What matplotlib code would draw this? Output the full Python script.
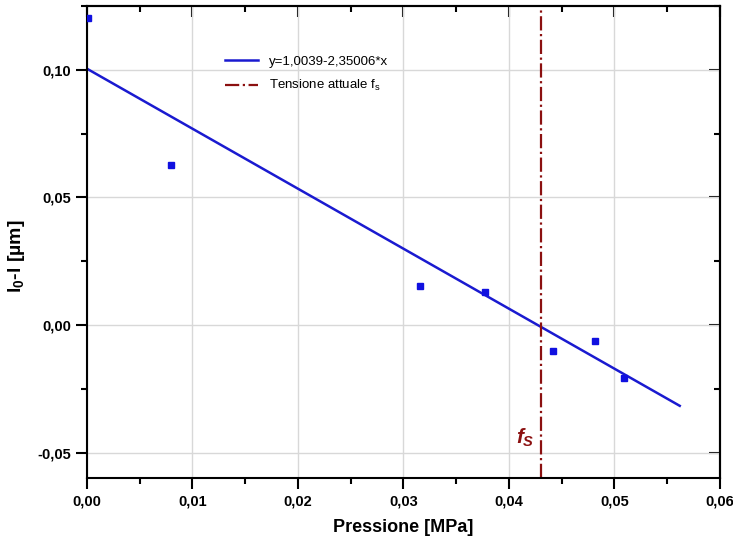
import matplotlib

matplotlib.use("Agg")
import matplotlib.pyplot as plt
from matplotlib.ticker import FuncFormatter, MultipleLocator

plt.rcParams["font.family"] = ["Liberation Sans", "DejaVu Sans"]
plt.rcParams["mathtext.fontset"] = "custom"
plt.rcParams["mathtext.it"] = "Liberation Sans:italic:bold"
plt.rcParams["mathtext.rm"] = "Liberation Sans"
plt.rcParams["mathtext.bf"] = "Liberation Sans:bold"

# measured points
pressione = [0.0001, 0.0080, 0.0316, 0.0377, 0.0442, 0.0482, 0.0509]
delta_l = [0.1204, 0.0627, 0.0153, 0.0130, -0.0102, -0.0063, -0.0208]

# linear fit and current stress
fit_a, fit_b = 0.10039, -2.35006
fit_x = [0.0, 0.0562]
fs_x = 0.0430

fig = plt.figure(figsize=(7.33, 5.39), dpi=100)
ax = fig.add_axes([0.1187, 0.113, 0.8633, 0.876])

ax.grid(True, color="#d8d8d8", linewidth=1.0, zorder=0)
ax.plot(pressione, delta_l, "s", color="#1010e0", markersize=4.5, zorder=3)
ax.plot(fit_x, [fit_a + fit_b * x for x in fit_x], color="#1a1ad0",
        linewidth=1.8, label="y=1,0039-2,35006*x", zorder=2)
ax.axvline(fs_x, color="#8b1010", linestyle="-.", linewidth=1.6,
           label="Tensione attuale f$_\\mathregular{s}$", zorder=2)
ax.text(fs_x - 0.0006, -0.0444, "$f_S$", color="#8b1010",
        fontsize=15, ha="right", va="center")

ax.set_xlim(0, 0.06)
ax.set_ylim(-0.06, 0.125)
ax.xaxis.set_major_locator(MultipleLocator(0.01))
ax.xaxis.set_minor_locator(MultipleLocator(0.005))
ax.yaxis.set_major_locator(MultipleLocator(0.05))
ax.yaxis.set_minor_locator(MultipleLocator(0.025))
ax.xaxis.set_major_formatter(FuncFormatter(lambda v, p: f"{v:.2f}".replace(".", ",")))
ax.yaxis.set_major_formatter(FuncFormatter(lambda v, p: f"{v:.2f}".replace(".", ",")))

ax.tick_params(which="both", direction="out", width=1.5, labelsize=10.5)
ax.tick_params(which="major", length=8)
ax.tick_params(which="minor", length=4)
for lab in ax.get_xticklabels() + ax.get_yticklabels():
    lab.set_fontweight("bold")
for s in ax.spines.values():
    s.set_linewidth(1.5)

# mirrored ticks pointing inward on top and right
top = ax.secondary_xaxis("top")
right = ax.secondary_yaxis("right")
for sec in (top, right):
    sec.tick_params(which="both", direction="in", width=1.5, labelsize=0)
    sec.tick_params(which="major", length=8)
    sec.tick_params(which="minor", length=4)
top.xaxis.set_major_locator(MultipleLocator(0.01))
top.xaxis.set_minor_locator(MultipleLocator(0.005))
right.yaxis.set_major_locator(MultipleLocator(0.05))
right.yaxis.set_minor_locator(MultipleLocator(0.025))
top.set_xticklabels([])
right.set_yticklabels([])
top.spines["top"].set_linewidth(1.5)
right.spines["right"].set_linewidth(1.5)

ax.set_xlabel("Pressione [MPa]", fontsize=13, fontweight="bold", labelpad=8)
ax.set_ylabel("l$_\\mathbf{0}$-l [µm]", fontsize=14, fontweight="bold")
ax.yaxis.set_label_coords(-0.095, 0.47)

ax.legend(loc="upper left", bbox_to_anchor=(0.2, 0.92), frameon=False,
          fontsize=9.5, handlelength=2.5, labelspacing=0.8)

fig.savefig("out.png", dpi=100)
